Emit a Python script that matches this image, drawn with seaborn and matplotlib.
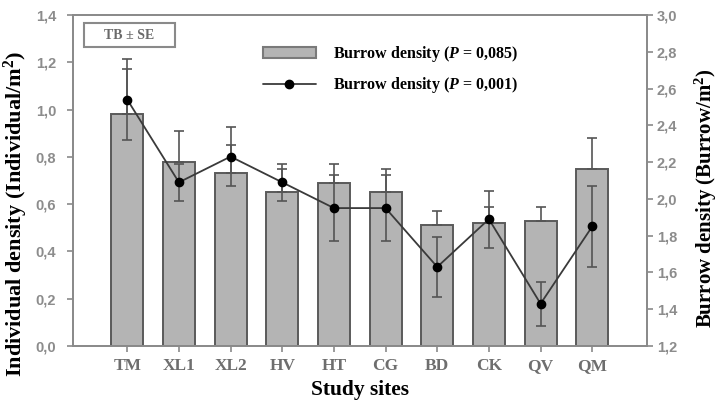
import numpy as np
import matplotlib
matplotlib.use("Agg")
import matplotlib.pyplot as plt
import seaborn as sns
from matplotlib.patches import Patch, Rectangle
from matplotlib.lines import Line2D
from matplotlib.ticker import FuncFormatter, MultipleLocator

sites = ["TM", "XL1", "XL2", "HV", "HT", "CG", "BD", "CK", "QV", "QM"]
indiv_density = [0.98, 0.78, 0.73, 0.65, 0.69, 0.65, 0.51, 0.52, 0.53, 0.75]
indiv_se = [0.19, 0.13, 0.12, 0.10, 0.08, 0.10, 0.06, 0.07, 0.06, 0.13]
burrow_density = [2.54, 2.09, 2.23, 2.09, 1.95, 1.95, 1.63, 1.89, 1.43, 1.85]
burrow_se = [0.22, 0.10, 0.16, 0.10, 0.18, 0.18, 0.165, 0.155, 0.12, 0.22]

sns.set_style("ticks")
plt.rcParams["font.family"] = ["Liberation Serif", "DejaVu Serif"]
plt.rcParams["font.weight"] = "bold"
plt.rcParams["mathtext.fontset"] = "custom"
plt.rcParams["mathtext.rm"] = "Liberation Serif:bold"
plt.rcParams["mathtext.it"] = "Liberation Serif:italic:bold"
plt.rcParams["mathtext.bf"] = "Liberation Serif:bold"

SPINE = "#8a8a8a"
TICKC = "#8a8a8a"
BARC = "#b4b4b4"
BAREDGE = "#5a5a5a"
ERRC = "#555555"

fig = plt.figure(figsize=(7.18, 4.09), dpi=100)
ax1 = fig.add_axes([73/718, 1-346/409, (647-73)/718, (346-15)/409])

sns.barplot(x=sites, y=indiv_density, ax=ax1, color=BARC, saturation=1,
            edgecolor=BAREDGE, linewidth=1.4, width=0.62, errorbar=None, zorder=2)
pos = np.arange(len(sites))
ax1.errorbar(pos, indiv_density, yerr=[np.zeros(len(sites)), indiv_se], fmt="none",
             ecolor=ERRC, elinewidth=1.2, capsize=3.6, capthick=1.2, zorder=3)

ax2 = ax1.twinx()
sns.pointplot(x=sites, y=burrow_density, ax=ax2, color="#1a1a1a", errorbar=None,
              markersize=6, linewidth=1.3, zorder=4)
for ln in ax2.lines:
    ln.set_color("#3a3a3a")
    ln.set_markerfacecolor("black")
    ln.set_markeredgecolor("black")
ax2.errorbar(pos, burrow_density, yerr=burrow_se, fmt="none",
             ecolor=ERRC, elinewidth=1.2, capsize=3.6, capthick=1.2, zorder=3)

ax1.set_ylim(0, 1.4)
ax2.set_ylim(1.2, 3.0)
ax1.set_xlim(-1.05, 10.06)
ax1.yaxis.set_major_locator(MultipleLocator(0.2))
ax2.yaxis.set_major_locator(MultipleLocator(0.2))
fmt = FuncFormatter(lambda v, p: f"{v:.1f}".replace(".", ","))
ax1.yaxis.set_major_formatter(fmt)
ax2.yaxis.set_major_formatter(fmt)

for ax in (ax1, ax2):
    ax.set_xlabel("")
    ax.set_ylabel("")
    for s in ax.spines.values():
        s.set_color(SPINE)
        s.set_linewidth(1.3)
        s.set_visible(True)
    ax.tick_params(axis="both", colors=TICKC, length=4, width=1.2, direction="out")

for lab in ax1.get_yticklabels() + ax2.get_yticklabels():
    lab.set_family("Liberation Sans")
    lab.set_fontweight("bold")
    lab.set_fontsize(10.5)
    lab.set_color("#8c8c8c")
ax1.set_xticks(pos)
ax1.set_xticklabels(sites, fontsize=12.5, fontweight="bold", color="#6e6e6e",
                    family="Liberation Serif")
ax1.tick_params(axis="x", pad=5)
ax1.tick_params(axis="y", pad=8)
ax2.tick_params(axis="y", pad=3)

# TB ± SE box
ax1.add_patch(Rectangle((0.019, 0.903), 0.159, 0.073, transform=ax1.transAxes,
                        fill=False, edgecolor="#8a8a8a", linewidth=1.5, zorder=5))
ax1.text(0.0985, 0.9395, "TB ± SE", transform=ax1.transAxes, ha="center", va="center",
         fontsize=10, fontweight="bold", color="#6a6a6a", zorder=6)

handles = [Patch(facecolor=BARC, edgecolor="#7a7a7a", linewidth=1.5),
           Line2D([], [], color="#3a3a3a", linewidth=1.3, marker="o", markersize=6,
                  markerfacecolor="black", markeredgecolor="black")]
labels = ["Burrow density ($P$ = 0,085)", "Burrow density ($P$ = 0,001)"]
leg = ax2.legend(handles, labels, loc="upper left", bbox_to_anchor=(0.331, 0.912),
                 frameon=False, fontsize=11.5, handlelength=3.3, handleheight=0.7,
                 handletextpad=1.1, labelspacing=0.7, borderpad=0, borderaxespad=0)
for t in leg.get_texts():
    t.set_fontweight("bold")
    t.set_color("black")

fig.text(360/718, 1-390/409, "Study sites", ha="center", va="center",
         fontsize=15.5, fontweight="bold", color="black")
fig.text(16/718, 1-214/409, "Individual density (Individual/m$^2$)", ha="center", va="center",
         rotation=90, fontsize=16, fontweight="bold", color="black")
fig.text(706/718, 1-198/409, "Burrow density (Burrow/m$^2$)", ha="center", va="center",
         rotation=90, fontsize=15, fontweight="bold", color="black")

fig.savefig("out.png", dpi=100)
